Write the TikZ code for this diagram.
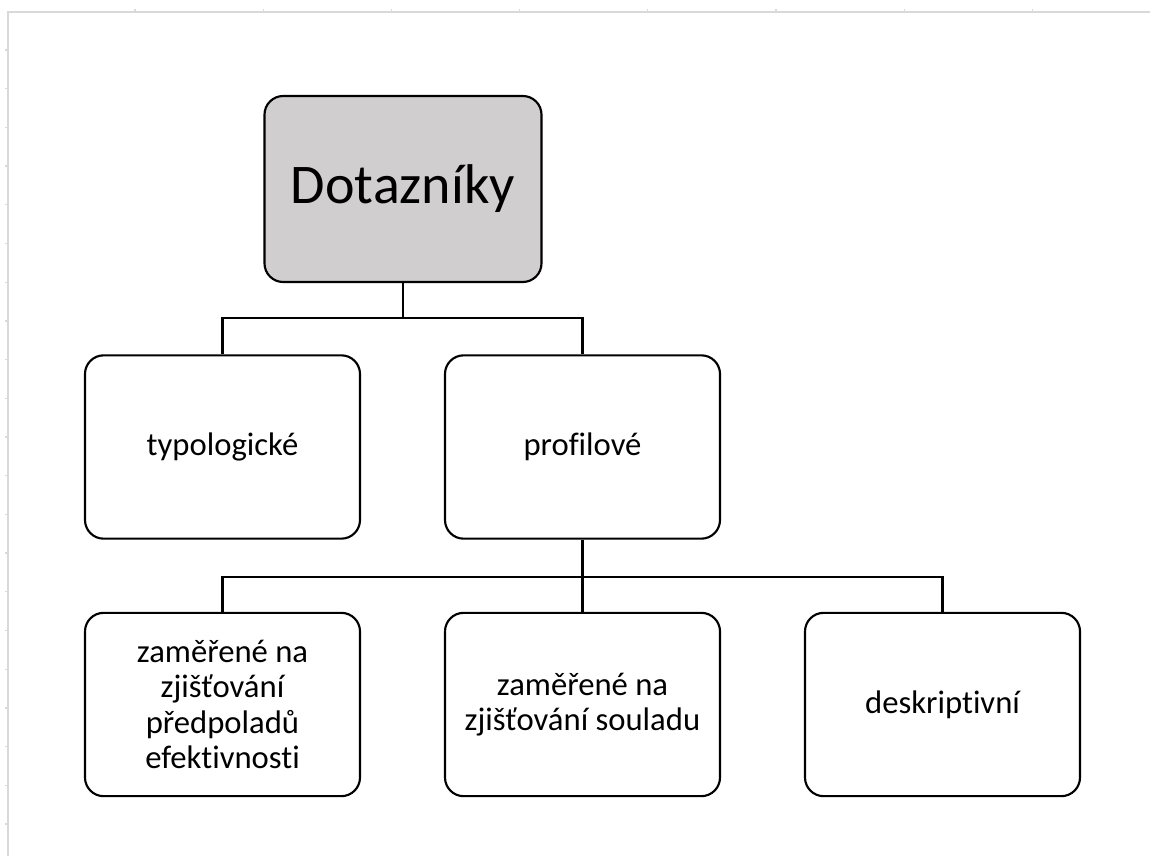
\documentclass[tikz,border=0pt]{standalone}
\usepackage{fontspec}
\setmainfont{Carlito}[Ligatures=NoCommon]
\begin{document}
\begin{tikzpicture}[x=0.75pt,y=-0.75pt,
  box/.style={draw=black,line width=1.6pt,rounded corners=14pt,fill=white,
    minimum width=206.25pt,minimum height=137.5pt,align=center,inner sep=4pt,
    font=\fontsize{24.5}{26.5}\selectfont},
  rootbox/.style={box,fill=rootgray,minimum width=207.75pt,minimum height=139.5pt,
    font=\fontsize{42}{48}\selectfont},
  link/.style={line width=1.6pt,draw=black},
  frame/.style={draw=framegray,line width=1pt}]
\definecolor{rootgray}{HTML}{D0CECE}
\definecolor{framegray}{HTML}{D9D9D9}
\useasboundingbox (0,0) rectangle (1150,856);

% sheet edge with small ruler ticks
\draw[frame] (8,856) -- (8,12) -- (1150,12);
\foreach \k in {0,...,20} \draw[frame] (5,50+38.7*\k) -- (8,50+38.7*\k);
\foreach \k in {0,...,7} \draw[frame] (135+128.2*\k,9) -- (135+128.2*\k,12);

% boxes
\node[rootbox] (root) at (403,189) {Dotazníky};
\node[box] (typ) at (222.5,447) {typologické};
\node[box] (prof) at (582.5,447) {profilové};
\node[box] (pred) at (222.5,704.5) {zaměřené na\\zjišťování\\předpoladů\\efektivnosti};
\node[box] (soul) at (582.5,704.5) {zaměřené na\\zjišťování souladu};
\node[box] (desk) at (942.5,704.5) {deskriptivní};

% connectors
\coordinate (bus1) at (403,318);
\coordinate (bus2) at (582.5,577);
\draw[link] (root.south) -- (bus1) -| (typ.north);
\draw[link] (bus1) -| (prof.north);
\draw[link] (prof.south) -- (bus2) -| (pred.north);
\draw[link] (bus2) -- (soul.north);
\draw[link] (bus2) -| (desk.north);
\end{tikzpicture}
\end{document}
